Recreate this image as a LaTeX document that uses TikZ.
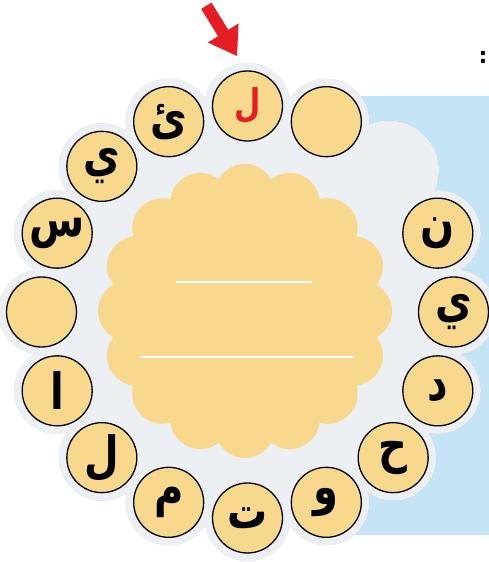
\documentclass[tikz,border=0pt]{standalone}
\usepackage{graphicx}
\usepackage{fontspec}
\newfontfamily\arabicfont[Script=Arabic]{DejaVu Sans}
\newfontfamily\symfont{DejaVu Sans}
\TeXXeTstate=1
\newcommand\narrowglyph[1]{\scalebox{0.8}[1]{#1}}
\definecolor{cream}{RGB}{248,216,140}
\definecolor{backgray}{RGB}{237,240,243}
\definecolor{skyblue}{RGB}{197,229,246}
\definecolor{shadowcol}{RGB}{110,140,165}
\definecolor{arrowred}{RGB}{228,30,36}
\tikzset{
  lettercircle/.style={circle,draw=black,line width=1.3pt,fill=cream,minimum size=70pt,inner sep=0pt,
    font=\arabicfont\bfseries\fontsize{50}{50}\selectfont},
  hintline/.style={draw=white,line width=1.4pt}
}
\begin{document}
\begin{tikzpicture}[x=1pt,y=1pt]
\useasboundingbox (0,0) rectangle (489,562);
\coordinate (C) at (247.5,250);
\coordinate (F) at (245,251);
% blue panel
\fill[skyblue] (350,27) rectangle (489,466);
% shadow of the cloud
\fill[shadowcol,opacity=0.45,shift={(8,-8)}] (C) circle (206)
  ([shift={(45:200)}]C) circle (50)
  \foreach \a in {0,22.5,67.5,90,112.5,135,157.5,180,202.5,225,247.5,270,292.5,315,337.5}{
    ([shift={(\a:206)}]C) circle (43)};
% cloud backdrop
\fill[backgray] (C) circle (206)
  ([shift={(45:200)}]C) circle (50)
  \foreach \a in {0,22.5,67.5,90,112.5,135,157.5,180,202.5,225,247.5,270,292.5,315,337.5}{
    ([shift={(\a:206)}]C) circle (43)};
% scalloped centre
\fill[cream] (F) circle (118)
  \foreach \a in {0,22.5,...,337.5}{ ([shift={(\a:117)}]F) circle (30)};
\coordinate (l1a) at (176,280); \coordinate (l1b) at (312,280);
\coordinate (l2a) at (140,205); \coordinate (l2b) at (354,205);
\draw[hintline] (l1a) -- (l1b);
\draw[hintline] (l2a) -- (l2b);
% letter circles
\node[lettercircle,text=arrowred,font=\arabicfont\bfseries\fontsize{38}{38}\selectfont] (c90) at ([shift={(90:206)}]C) {\narrowglyph{ل}};
\node[lettercircle] (c67) at ([shift={(67.5:206)}]C) {};
\node[lettercircle] (c112) at ([shift={(112.5:206)}]C) {\narrowglyph{ئ}};
\node[lettercircle] (c135) at ([shift={(135:206)}]C) {\narrowglyph{ي}};
\node[lettercircle] (c157) at ([shift={(157.5:206)}]C) {\narrowglyph{س}};
\node[lettercircle] (c180) at ([shift={(180:206)}]C) {};
\node[lettercircle] (c202) at ([shift={(202.5:206)}]C) {\narrowglyph{ا}};
\node[lettercircle] (c225) at ([shift={(225:206)}]C) {\narrowglyph{ل}};
\node[lettercircle] (c247) at ([shift={(247.5:206)}]C) {\narrowglyph{م}};
\node[lettercircle] (c270) at ([shift={(270:206)}]C) {\narrowglyph{ت}};
\node[lettercircle] (c292) at ([shift={(292.5:206)}]C) {\narrowglyph{و}};
\node[lettercircle] (c315) at ([shift={(315:206)}]C) {\narrowglyph{ح}};
\node[lettercircle] (c337) at ([shift={(337.5:206)}]C) {\narrowglyph{د}};
\node[lettercircle] (c0) at ([shift={(0:206)}]C) {\narrowglyph{ي}};
\node[lettercircle] (c22) at ([shift={(22.5:206)}]C) {\narrowglyph{ن}};
% red arrow
\fill[arrowred] (211.4,559.4) -- (228.3,532.2) -- (238.6,538.5) -- (237,506) -- (207.8,519.5) -- (218.1,525.8) -- (201.2,553) -- cycle;
% colon
\node[font=\symfont\bfseries\fontsize{22}{22}\selectfont,inner sep=0pt] (colon) at (483,505) {:};
\end{tikzpicture}
\end{document}
